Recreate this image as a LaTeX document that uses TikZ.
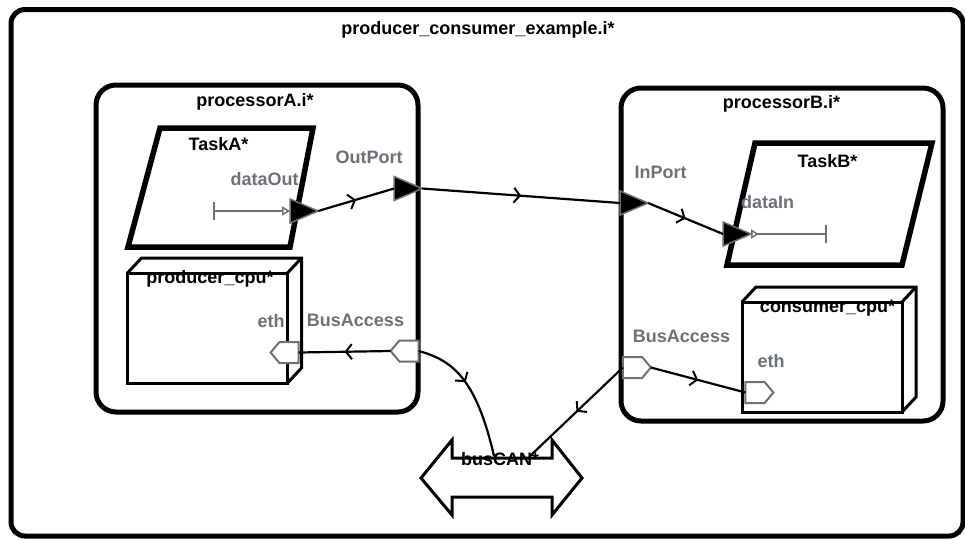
\documentclass[tikz,border=0pt]{standalone}
\usepackage{fontspec}
\setmainfont{Liberation Sans}
\usetikzlibrary{arrows.meta,positioning,shapes.geometric,shapes.symbols,decorations.markings,calc}
\definecolor{portline}{HTML}{707070}
\definecolor{portlabel}{HTML}{6C7078}
\tikzset{
  vsys/.style={draw=black,line width=5pt,rounded corners=14pt,inner sep=0pt,outer sep=0pt},
  vproc/.style={draw=black,line width=5pt,rounded corners=20pt,inner sep=0pt,outer sep=0pt},
  vtask/.style={draw=black,line width=5.5pt,line join=miter},
  vcpu/.style={draw=black,line width=3pt,inner sep=0pt,outer sep=0pt,minimum width=160pt,minimum height=110pt},
  vcpuedge/.style={draw=black,line width=3pt},
  vname/.style={font=\bfseries\fontsize{18}{20}\selectfont,inner sep=0pt,anchor=base},
  vport/.style={font=\bfseries\fontsize{18}{20}\selectfont,text=portlabel,inner sep=0pt,anchor=base},
  vdata/.style={isosceles triangle,isosceles triangle stretches,fill=black,draw=portline,line width=1.5pt,inner sep=0pt,outer sep=0pt,minimum width=24pt,minimum height=28pt},
  vbus/.style={signal,draw=portline,fill=white,line width=2pt,inner sep=0pt,outer sep=0pt,minimum width=28pt,minimum height=21pt,signal pointer angle=100},
  vconn/.style={line width=2.2pt,postaction={decorate},decoration={markings,mark=at position #1 with {\arrow{Straight Barb[length=6pt,width=15pt,line width=2pt]}}}},
  vconn/.default=0.5,
  vfeat/.style={draw=portline,line width=2pt},
  vcan/.style={draw=black,line width=3pt,fill=white,line join=miter}
}
\begin{document}
\begin{tikzpicture}[x=1pt,y=-1pt]
  \useasboundingbox (0,0) rectangle (965,539);
  % system and processors
  \node[vsys,minimum width=952pt,minimum height=526.5pt] (system) at (487,272.75) {};
  \node[vproc,minimum width=322pt,minimum height=327pt] (procA) at (257,248.5) {};
  \node[vproc,minimum width=322pt,minimum height=333pt] (procB) at (782,254.5) {};
  \node[vname] (sysName) at (478,34) {producer\_consumer\_example.i*};
  \node[vname] (procAName) at (255,106) {processorA.i*};
  \node[vname] (procBName) at (781.5,108) {processorB.i*};

  % threads
  \draw[vtask] (160,128) -- (313,128) -- (290,247) -- (128,247) -- cycle;
  \draw[vtask] (755,143) -- (932,143) -- (902,265) -- (727,265) -- cycle;
  \node[vname] (taskAName) at (218.5,150) {TaskA*};
  \node[vname] (taskBName) at (827.5,167) {TaskB*};

  % processors (hardware)
  \node[vcpu] (cpuA) at (207.5,328) {};
  \draw[vcpuedge] (cpuA.north west) -- ++(14,-15) -- ($(cpuA.north east)+(14,-15)$)
    -- ($(cpuA.south east)+(14,-15)$) -- (cpuA.south east);
  \draw[vcpuedge] (cpuA.north east) -- ++(14,-15);
  \node[vcpu] (cpuB) at (822,357) {};
  \draw[vcpuedge] (cpuB.north west) -- ++(14,-15) -- ($(cpuB.north east)+(14,-15)$)
    -- ($(cpuB.south east)+(14,-15)$) -- (cpuB.south east);
  \draw[vcpuedge] (cpuB.north east) -- ++(14,-15);
  \node[vname] (cpuAName) at (210,283) {producer\_cpu*};
  \node[vname] (cpuBName) at (827.5,312) {consumer\_cpu*};

  % bus
  \draw[vcan] (421,478) -- (452,440) -- (452,458) -- (552,458) -- (552,440) -- (582,478)
    -- (552,515) -- (552,497) -- (452,497) -- (452,515) -- cycle;
  \node[vname] (busName) at (500,465) {busCAN*};
  \coordinate (canA) at (494,456);
  \coordinate (canB) at (530,456);

  % connections
  \coordinate (dataOutEnd) at (213,211);
  \coordinate (dataInEnd) at (827,234);
  \node[vdata] (dataOut) at (298,211) {};
  \node[vdata] (outPort) at (402,188.5) {};
  \node[vdata] (inPort) at (628,203) {};
  \node[vdata] (dataIn) at (731,234) {};
  \draw[vfeat,{Bar[width=18pt,line width=2pt]}-{Triangle[open,length=8pt,width=9pt,line width=1.5pt]}] (dataOutEnd) -- (dataOut.west);
  \draw[vfeat,{Triangle[open,reversed,length=8pt,width=9pt,line width=1.5pt]}-{Bar[width=18pt,line width=2pt]}] (dataIn.east) -- (dataInEnd);
  \draw[vconn] (dataOut.east) -- (outPort.west);
  \draw[vconn] (outPort.east) -- (inPort.west);
  \draw[vconn] (inPort.east) -- (dataIn.west);

  \node[vbus,signal to=west] (ethA) at (289,352.5) {};
  \node[vbus,signal to=west] (busA) at (409,351) {};
  \node[vbus,signal to=east] (busB) at (632.5,367.5) {};
  \node[vbus,signal to=east] (ethB) at (755,392.5) {};
  \draw[vconn] (busA.west) -- (ethA.east);
  \draw[vconn] (busB.east) -- (ethB.west);
  \draw[vconn=0.42] (busA.east) .. controls (452,360) and (476,378) .. (canA);
  \draw[vconn] (busB.west) -- (canB);

  \node[vport] (dataOutName) at (264.5,185) {dataOut};
  \node[vport] (outPortName) at (369,163) {OutPort};
  \node[vport] (inPortName) at (660.5,178) {InPort};
  \node[vport] (dataInName) at (767.5,208) {dataIn};
  \node[vport] (ethAName) at (271,327) {eth};
  \node[vport] (busAName) at (355.5,326) {BusAccess};
  \node[vport] (ethBName) at (771,367) {eth};
  \node[vport] (busBName) at (681.5,342) {BusAccess};
\end{tikzpicture}
\end{document}
